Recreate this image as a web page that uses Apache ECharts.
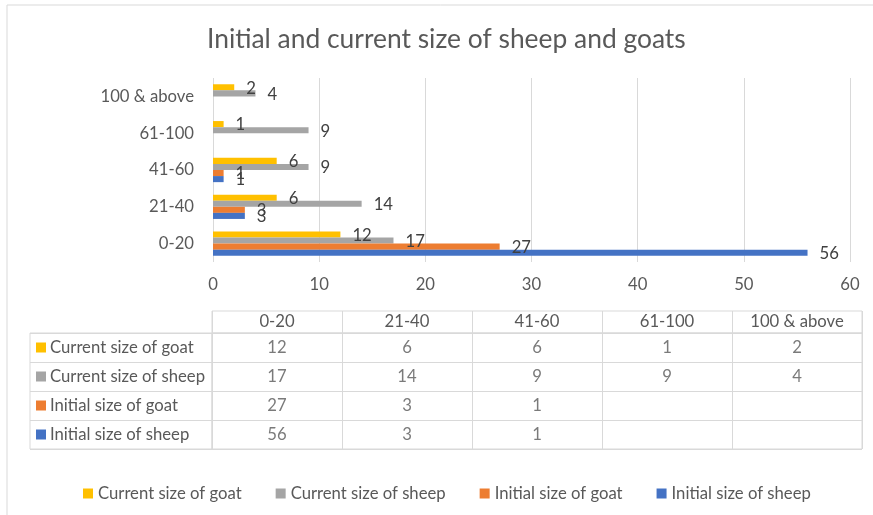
<!DOCTYPE html>
<html>
<head>
<meta charset="utf-8">
<script src="https://cdn.jsdelivr.net/npm/echarts@6/dist/echarts.min.js"></script>
<style>
  html, body { margin: 0; padding: 0; background: #fff; }
  #main { width: 873px; height: 515px; }
</style>
</head>
<body>
<div id="main"></div>
<script>
// data
const categories = ['0-20', '21-40', '41-60', '61-100', '100 & above']
const seriesNames = ['Initial size of sheep', 'Initial size of goat', 'Current size of sheep', 'Current size of goat']
const initialSheep = [56, 3, 1, null, null]
const initialGoat = [27, 3, 1, null, null]
const currentSheep = [17, 14, 9, 9, 4]
const currentGoat = [12, 6, 6, 1, 2]
const xTicks = [0, 10, 20, 30, 40, 50, 60]

const colors = ['#4472C4', '#ED7D31', '#A5A5A5', '#FFC000']
const values = [initialSheep, initialGoat, currentSheep, currentGoat]
const font = 'Lato'
const fs = 16.7
const lineColor = '#d9d9d9'

// one scatter point per table cell, label shows the value
const cellData = []
values.forEach((arr, si) => {
  arr.forEach((v, ci) => {
    if (v !== null) cellData.push([categories[ci], seriesNames[si], v])
  })
})

const rich = {}
colors.forEach((c, i) => {
  rich['s' + i] = { width: 10, height: 10, backgroundColor: c }
  rich['t' + i] = { fontSize: fs, color: '#595959', fontFamily: font, padding: [0, 0, 0, 4] }
})

// echarts stacks horizontal bars top-down, so feed them in reverse
const barSeries = values.map((arr, i) => ({
  name: seriesNames[i],
  type: 'bar',
  xAxisIndex: 0,
  yAxisIndex: 0,
  data: arr,
  barGap: '0%',
  barCategoryGap: '34%',
  itemStyle: { color: colors[i] },
  label: {
    show: true,
    position: 'right',
    distance: 12,
    offset: [0, 1],
    fontSize: fs,
    fontFamily: font,
    color: '#404040'
  }
})).reverse()

const chart = echarts.init(document.getElementById('main'))
const option = {
  backgroundColor: '#fff',
  animation: false,
  textStyle: { fontFamily: font },
  title: {
    text: 'Initial and current size of sheep and goats',
    left: 202,
    top: 21,
    textStyle: { fontSize: 26.4, fontWeight: 'normal', color: '#595959', fontFamily: font }
  },
  legend: {
    data: seriesNames.slice().reverse(),
    left: 78,
    top: 480,
    icon: 'rect',
    itemWidth: 10,
    itemHeight: 10,
    itemGap: 34,
    textStyle: { fontSize: fs, color: '#595959', fontFamily: font }
  },
  graphic: [{
    type: 'rect',
    shape: { x: 7, y: 5, width: 900, height: 600 },
    style: { fill: 'none', stroke: lineColor, lineWidth: 1 },
    silent: true
  }],
  grid: [
    // bar chart
    { left: 213, right: 23, top: 78, bottom: 253 },
    // table header row
    { left: 212, right: 11, top: 311, height: 22, show: true, borderColor: lineColor, borderWidth: 1 },
    // table body
    { left: 212, right: 11, top: 333, bottom: 66, show: true, borderColor: lineColor, borderWidth: 1 },
    // row-header column
    { left: 30, width: 182, top: 333, bottom: 66, show: true, borderColor: lineColor, borderWidth: 1 }
  ],
  xAxis: [
    {
      gridIndex: 0,
      type: 'value',
      min: xTicks[0],
      max: xTicks[xTicks.length - 1],
      interval: xTicks[1] - xTicks[0],
      axisLine: { show: false },
      axisTick: { show: false },
      axisLabel: { fontSize: fs, color: '#595959', margin: 14, fontFamily: font },
      splitLine: { lineStyle: { color: lineColor, width: 1 } }
    },
    {
      gridIndex: 1,
      type: 'category',
      data: categories,
      axisLine: { show: false },
      axisTick: { show: false },
      axisLabel: { show: false },
      splitLine: { show: true, interval: 0, lineStyle: { color: lineColor } }
    },
    {
      gridIndex: 2,
      type: 'category',
      position: 'top',
      data: categories,
      axisLine: { show: false },
      axisTick: { show: false },
      axisLabel: { fontSize: fs, color: '#595959', margin: 3, interval: 0, fontFamily: font },
      splitLine: { show: true, interval: 0, lineStyle: { color: lineColor } }
    },
    {
      gridIndex: 3,
      type: 'value',
      show: false
    }
  ],
  yAxis: [
    {
      gridIndex: 0,
      type: 'category',
      data: categories,
      axisLine: { show: false },
      axisTick: { show: false },
      axisLabel: { fontSize: fs, color: '#595959', margin: 19, fontFamily: font }
    },
    {
      gridIndex: 1,
      type: 'value',
      show: false
    },
    {
      gridIndex: 2,
      type: 'category',
      data: seriesNames,
      axisLine: { show: false },
      axisTick: { show: false },
      axisLabel: { show: false },
      splitLine: { show: true, interval: 0, lineStyle: { color: lineColor } }
    },
    {
      gridIndex: 3,
      type: 'category',
      data: seriesNames,
      axisLine: { show: false },
      axisTick: { show: false },
      axisLabel: {
        inside: true,
        margin: 6,
        interval: 0,
        formatter: (v, i) => '{s' + i + '|}{t' + i + '|' + v + '}',
        rich: rich
      },
      splitLine: { show: true, interval: 0, lineStyle: { color: lineColor } }
    }
  ],
  series: barSeries.concat([{
    type: 'scatter',
    xAxisIndex: 2,
    yAxisIndex: 2,
    symbolSize: 0,
    silent: true,
    data: cellData,
    label: {
      show: true,
      position: 'inside',
      formatter: p => p.value[2],
      fontSize: fs,
      color: '#595959',
      fontFamily: font
    }
  }])
}
chart.setOption(option)
</script>
</body>
</html>
